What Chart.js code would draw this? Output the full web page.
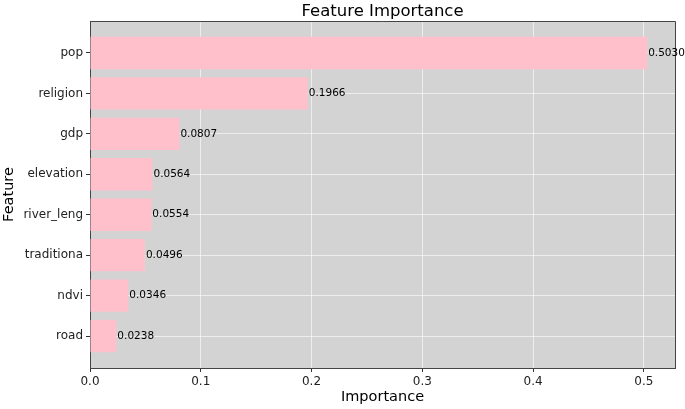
<!DOCTYPE html>
<html>
<head>
<meta charset="utf-8">
<script src="https://cdn.jsdelivr.net/npm/chart.js@4/dist/chart.umd.min.js"></script>
<style>
  html, body { margin: 0; padding: 0; background: #ffffff; }
  #c { display: block; }
</style>
</head>
<body>
<canvas id="c" width="685" height="409"></canvas>
<script>
// ---- data ----
const features = ["pop", "religion", "gdp", "elevation", "river_leng", "traditiona", "ndvi", "road"];
const importances = [0.5030, 0.1966, 0.0807, 0.0564, 0.0554, 0.0496, 0.0346, 0.0238];
const xTickValues = [0.0, 0.1, 0.2, 0.3, 0.4, 0.5];
const chartTitle = "Feature Importance";
const xTitle = "Importance";
const yTitle = "Feature";

const FONT = "'DejaVu Sans', 'Liberation Sans', sans-serif";

const maxVal = Math.max(...importances);
const xMax = maxVal * 1.05;
const n = features.length;
const yPad = 0.4 + 0.05 * (n - 1 + 0.8);

const decoPlugin = {
  id: 'deco',
  beforeDraw(chart) {
    const { ctx, chartArea: a } = chart;
    ctx.save();
    ctx.fillStyle = '#d3d3d3';
    ctx.fillRect(a.left, a.top, a.right - a.left, a.bottom - a.top);
    ctx.restore();
  },
  afterDraw(chart) {
    const { ctx, chartArea: a } = chart;
    ctx.save();
    // top & right frame
    ctx.strokeStyle = '#444444';
    ctx.lineWidth = 1;
    ctx.beginPath();
    ctx.moveTo(a.left, a.top + 0.5);
    ctx.lineTo(a.right + 0.5, a.top + 0.5);
    ctx.lineTo(a.right + 0.5, a.bottom);
    ctx.stroke();
    // title
    ctx.fillStyle = '#000000';
    ctx.font = '16.5px ' + FONT;
    ctx.textAlign = 'center';
    ctx.textBaseline = 'alphabetic';
    ctx.fillText(chartTitle, (a.left + a.right) / 2, 16);
    // value labels
    const meta = chart.getDatasetMeta(0);
    ctx.font = '10.5px ' + FONT;
    ctx.textAlign = 'left';
    ctx.textBaseline = 'middle';
    ctx.fillStyle = '#000000';
    meta.data.forEach((el, i) => {
      ctx.fillText(importances[i].toFixed(4), el.x + 1, el.y);
    });
    ctx.restore();
  }
};

new Chart(document.getElementById('c'), {
  type: 'bar',
  data: {
    datasets: [{
      data: features.map((f, i) => ({ x: importances[i], y: i })),
      backgroundColor: '#ffc0cb',
      borderWidth: 0,
      barPercentage: 0.8,
      categoryPercentage: 1.0
    }]
  },
  options: {
    indexAxis: 'y',
    responsive: false,
    animation: false,
    devicePixelRatio: 1,
    layout: { padding: { top: 21, right: 10, left: 0, bottom: 0 } },
    plugins: { legend: { display: false }, tooltip: { enabled: false }, title: { display: false } },
    scales: {
      x: {
        type: 'linear',
        position: 'bottom',
        min: 0,
        max: xMax,
        offset: false,
        z: 1,
        afterBuildTicks: s => { s.ticks = xTickValues.map(v => ({ value: v })); },
        afterFit: s => { s.height = 41; },
        grid: { offset: false, color: 'rgba(255,255,255,0.6)', lineWidth: 1, tickColor: '#333333', tickLength: 4, drawTicks: true },
        border: { display: true, color: '#444444', width: 1 },
        ticks: {
          color: '#222222', font: { family: FONT, size: 12 }, padding: 3, maxRotation: 0,
          callback: v => Number(v).toFixed(1)
        },
        title: { display: true, text: xTitle, color: '#000000', font: { family: FONT, size: 14.5 }, padding: { top: 0, bottom: 3 } }
      },
      y: {
        type: 'linear',
        position: 'left',
        reverse: true,
        min: -yPad,
        max: n - 1 + yPad,
        offset: false,
        z: 1,
        afterBuildTicks: s => { s.ticks = features.map((f, i) => ({ value: i })); },
        afterFit: s => { s.width = 90; },
        grid: { offset: false, color: 'rgba(255,255,255,0.6)', lineWidth: 1, tickColor: '#333333', tickLength: 4, drawTicks: true },
        border: { display: true, color: '#444444', width: 1 },
        ticks: {
          color: '#222222', font: { family: FONT, size: 12 }, padding: 3,
          callback: v => features[Math.round(v)]
        },
        title: { display: true, text: yTitle, color: '#000000', font: { family: FONT, size: 14.5 }, padding: { top: 1, bottom: 0 } }
      }
    }
  },
  plugins: [decoPlugin]
});
</script>
</body>
</html>
